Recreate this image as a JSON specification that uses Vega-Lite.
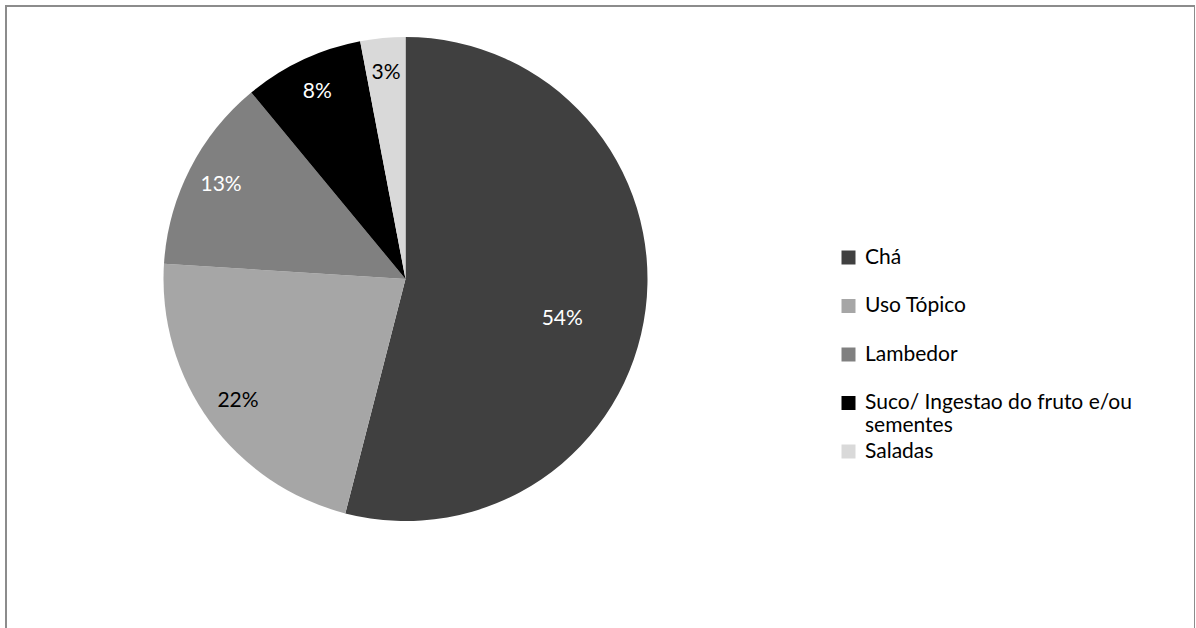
{
  "$schema": "https://vega.github.io/schema/vega-lite/v6.json",
  "width": 1189,
  "height": 640,
  "autosize": "none",
  "padding": {"left": 6, "top": 6, "right": 0, "bottom": 0},
  "background": "white",
  "view": {"stroke": "#8c8c8c", "strokeWidth": 2, "fill": "white"},
  "config": {"font": "Lato"},
  "data": {
    "values": [
      {"categoria": "Chá", "share": 0.54, "idx": 1},
      {"categoria": "Uso Tópico", "share": 0.22, "idx": 2},
      {"categoria": "Lambedor", "share": 0.13, "idx": 3},
      {"categoria": "Suco/ Ingestao do fruto e/ou sementes", "share": 0.08, "idx": 4},
      {"categoria": "Saladas", "share": 0.03, "idx": 5}
    ]
  },
  "encoding": {
    "theta": {"field": "share", "type": "quantitative", "stack": true},
    "order": {"field": "idx", "type": "quantitative"}
  },
  "layer": [
    {
      "mark": {"type": "arc", "radius": 242, "x": 399.5, "y": 273},
      "encoding": {
        "color": {
          "field": "categoria",
          "type": "nominal",
          "scale": {
            "domain": ["Chá", "Uso Tópico", "Lambedor", "Suco/ Ingestao do fruto e/ou sementes", "Saladas"],
            "range": ["#404040", "#a6a6a6", "#808080", "#000000", "#d9d9d9"]
          },
          "legend": {
            "orient": "none",
            "legendX": 832,
            "legendY": 241,
            "title": null,
            "padding": 0,
            "gridAlign": "all",
            "symbolType": "square",
            "symbolSize": 196,
            "symbolStrokeWidth": 0,
            "labelFontSize": 21,
            "labelFont": "Lato",
            "labelColor": "black",
            "labelOffset": 6,
            "labelLimit": 400,
            "rowPadding": 3.5,
            "labelExpr": "datum.label == 'Suco/ Ingestao do fruto e/ou sementes' ? ['Suco/ Ingestao do fruto e/ou', 'sementes'] : datum.label"
          }
        }
      }
    },
    {
      "mark": {"type": "text", "radius": {"expr": "datum.share > 0.5 ? 158 : 207"}, "dy": {"expr": "datum.share > 0.5 ? 20 : 0"}, "x": 399.5, "y": 273, "fontSize": 21, "font": "Lato"},
      "encoding": {
        "text": {"field": "share", "type": "quantitative", "format": ".0%"},
        "color": {"condition": {"test": "datum.share == 0.22 || datum.share == 0.03", "value": "black"}, "value": "white"}
      }
    }
  ]
}
